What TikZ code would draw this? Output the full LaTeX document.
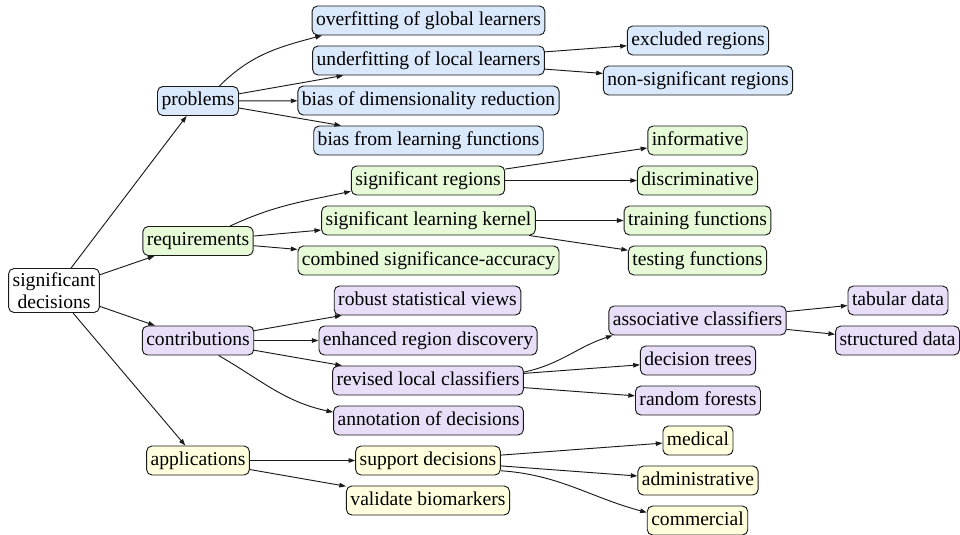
\documentclass[tikz,border=0pt]{standalone}
\usepackage{fontspec}
\setmainfont{LiberationSerif}[Extension=.ttf, UprightFont=*-Regular, BoldFont=*-Bold, ItalicFont=*-Italic, BoldItalicFont=*-BoldItalic]
\usetikzlibrary{arrows.meta}

\definecolor{probfill}{HTML}{DAE8FC}
\definecolor{reqfill}{HTML}{E6FAD8}
\definecolor{contfill}{HTML}{E8DEF8}
\definecolor{appfill}{HTML}{FFFFDD}
\definecolor{edgecol}{HTML}{1A1A1A}

\tikzset{
  box/.style={draw=edgecol, line width=0.7pt, rounded corners=4pt,
    inner xsep=3pt, inner ysep=0pt, minimum height=21.75pt,
    font=\fontsize{14.7}{16.5}\selectfont, text height=10.5pt, text depth=3.2pt},
  rootbox/.style={box, fill=white, align=center, text height=, text depth=, inner ysep=3pt},
  probbox/.style={box, fill=probfill},
  reqbox/.style={box, fill=reqfill},
  contbox/.style={box, fill=contfill},
  appbox/.style={box, fill=appfill},
  link/.style={draw=edgecol, line width=0.7pt, -{Triangle[length=5pt,width=3.4pt]}},
}

\begin{document}
\begin{tikzpicture}[x=0.75pt, y=-0.75pt]
\useasboundingbox (0,0) rectangle (960,535);

% root
\node[rootbox] (root) at (54,290.5) {significant\\decisions};

% first level
\node[probbox] (prob) at (198,101) {problems};
\node[reqbox]  (req)  at (198,241) {requirements};
\node[contbox] (cont) at (198,340.5) {contributions};
\node[appbox]  (app)  at (198,460.5) {applications};

% problems
\node[probbox] (over)  at (428.5,20.5)  {overfitting of global learners};
\node[probbox] (under) at (428.5,60.5)  {underfitting of local learners};
\node[probbox] (dimred) at (428.5,100.5) {bias of dimensionality reduction};
\node[probbox] (learnf) at (428.5,140.5) {bias from learning functions};
\node[probbox] (excl)  at (698,40.5)  {excluded regions};
\node[probbox] (nonsig) at (698,80.5) {non-significant regions};

% requirements
\node[reqbox] (sigreg) at (428,180.5) {significant regions};
\node[reqbox] (kernel) at (428.5,220.5) {significant learning kernel};
\node[reqbox] (comb)   at (428.5,260.5) {combined significance-accuracy};
\node[reqbox] (inform) at (697.5,140.5) {informative};
\node[reqbox] (discr)  at (697.5,180.5) {discriminative};
\node[reqbox] (train)  at (697.5,220.5) {training functions};
\node[reqbox] (test)   at (697.5,260.5) {testing functions};

% contributions
\node[contbox] (robust) at (427.5,300.5) {robust statistical views};
\node[contbox] (enh)    at (428,340.5) {enhanced region discovery};
\node[contbox] (revis)  at (428,380.5) {revised local classifiers};
\node[contbox] (annot)  at (428.5,420.5) {annotation of decisions};
\node[contbox] (assoc)  at (697.5,320.5) {associative classifiers};
\node[contbox] (dtree)  at (698,360.5) {decision trees};
\node[contbox] (rforest) at (698,400.5) {random forests};
\node[contbox] (tab)    at (898,300.5) {tabular data};
\node[contbox] (struct) at (897.5,340.5) {structured data};

% applications
\node[appbox] (support) at (428,460.5) {support decisions};
\node[appbox] (valid)   at (428,500.5) {validate biomarkers};
\node[appbox] (medical) at (698,440.5) {medical};
\node[appbox] (admin)   at (698,480.5) {administrative};
\node[appbox] (comm)    at (697.5,520.5) {commercial};

% root edges
\draw[link] (root) -- (prob);
\draw[link] (root) -- (req);
\draw[link] (root) -- (cont);
\draw[link] (root) -- (app);

% problems edges
\draw[link] (prob.35) to[out=45,in=195] (over.188);
\draw[link] (prob) -- (under);
\draw[link] (prob) -- (dimred);
\draw[link] (prob) -- (learnf);
\draw[link] (under) -- (excl);
\draw[link] (under) -- (nonsig);

% requirements edges
\draw[link] (req.25) to[out=25,in=192] (sigreg.188);
\draw[link] (req) -- (kernel);
\draw[link] (req) -- (comb);
\draw[link] (sigreg) -- (inform);
\draw[link] (sigreg) -- (discr);
\draw[link] (kernel) -- (train);
\draw[link] (kernel) -- (test);

% contributions edges
\draw[link] (cont) -- (robust);
\draw[link] (cont) -- (enh);
\draw[link] (cont) -- (revis);
\draw[link] (cont.324) to[out=-30,in=168] (annot.175);
\draw[link] (revis.5) to[out=12,in=198] (assoc.190);
\draw[link] (revis) -- (dtree);
\draw[link] (revis) -- (rforest);
\draw[link] (assoc) -- (tab);
\draw[link] (assoc) -- (struct);

% applications edges
\draw[link] (app) -- (support);
\draw[link] (app) -- (valid);
\draw[link] (support) -- (medical);
\draw[link] (support) -- (admin);
\draw[link] (support.-8) to[out=-4,in=165] (comm.171);
\end{tikzpicture}
\end{document}
